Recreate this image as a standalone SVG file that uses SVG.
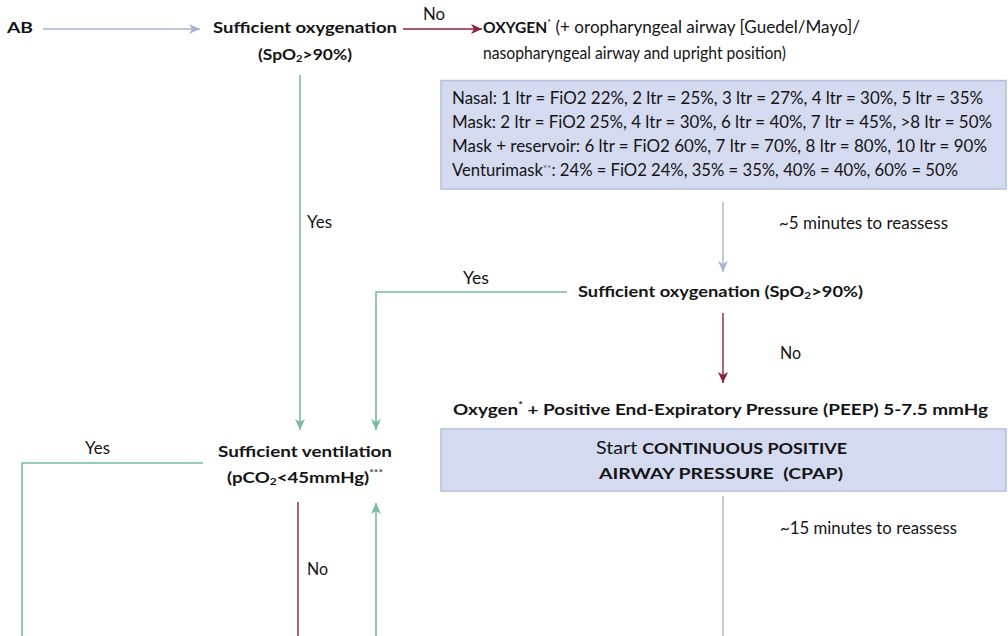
<svg xmlns="http://www.w3.org/2000/svg" width="1008" height="636" viewBox="0 0 1008 636">
<style>
  text { font-family: Lato, "Open Sans", "Liberation Sans", sans-serif; fill: #141414; }
  .r { font-size: 17px; font-weight: 400; }
  .b { font-size: 15.5px; font-weight: 700; }
  .t { font-size: 16.5px; font-weight: 400; }
  .box { fill: #d4daef; stroke: #b3bee0; stroke-width: 1.5; }
  .gray { stroke: #aab3d5; stroke-width: 1.4; fill: none; }
  .red { stroke: #8e1f45; stroke-width: 1.4; fill: none; }
  .green { stroke: #78bba0; stroke-width: 1.6; fill: none; }
  .sup { font-size: 9px; }
</style>
<defs>
  <marker id="ah-gray" markerUnits="userSpaceOnUse" markerWidth="12" markerHeight="10" refX="11" refY="5" orient="auto">
    <path d="M0,0 L11,5 L0,10 L3,5 z" fill="#aab3d5"/>
  </marker>
  <marker id="ah-red" markerUnits="userSpaceOnUse" markerWidth="12" markerHeight="10" refX="11" refY="5" orient="auto">
    <path d="M0,0 L11,5 L0,10 L3,5 z" fill="#8e1f45"/>
  </marker>
  <marker id="ah-green" markerUnits="userSpaceOnUse" markerWidth="12" markerHeight="10" refX="11" refY="5" orient="auto">
    <path d="M0,0 L11,5 L0,10 L3,5 z" fill="#78bba0"/>
  </marker>
</defs>
<rect width="1008" height="636" fill="#ffffff"/>

<g id="connectors">
  <line class="gray" x1="43" y1="29" x2="200" y2="29" marker-end="url(#ah-gray)"/>
  <line class="red" x1="403" y1="29" x2="482" y2="29" marker-end="url(#ah-red)"/>
  <line class="green" x1="300" y1="75" x2="300" y2="430" marker-end="url(#ah-green)"/>
  <line class="gray" x1="723" y1="202" x2="723" y2="272" marker-end="url(#ah-gray)"/>
  <polyline class="green" points="567,292 376,292 376,430" marker-end="url(#ah-green)"/>
  <line class="red" x1="723" y1="313" x2="723" y2="383" marker-end="url(#ah-red)"/>
  <polyline class="green" points="203,463 22,463 22,636"/>
  <line class="red" x1="298" y1="502" x2="298" y2="636"/>
  <line class="green" x1="376" y1="636" x2="376" y2="503" marker-end="url(#ah-green)"/>
  <line class="gray" x1="723" y1="496" x2="723" y2="636"/>
</g>

<g id="labels">
  <text class="r" x="423" y="20" textLength="22" lengthAdjust="spacingAndGlyphs">No</text>
  <text class="r" x="307" y="228" textLength="25" lengthAdjust="spacingAndGlyphs">Yes</text>
  <text class="r" x="779" y="229" textLength="169" lengthAdjust="spacingAndGlyphs">~5 minutes to reassess</text>
  <text class="r" x="463" y="284" textLength="26" lengthAdjust="spacingAndGlyphs">Yes</text>
  <text class="r" x="780" y="359" textLength="21" lengthAdjust="spacingAndGlyphs">No</text>
  <text class="r" x="85" y="454" textLength="25" lengthAdjust="spacingAndGlyphs">Yes</text>
  <text class="r" x="780" y="534" textLength="177" lengthAdjust="spacingAndGlyphs">~15 minutes to reassess</text>
  <text class="r" x="307" y="575" textLength="21" lengthAdjust="spacingAndGlyphs">No</text>
</g>

<g id="node-ab">
  <text class="b" x="7" y="33" textLength="26" lengthAdjust="spacingAndGlyphs">AB</text>
</g>

<g id="node-check1">
  <text class="b" x="213" y="33" textLength="184" lengthAdjust="spacingAndGlyphs">Sufficient oxygenation</text>
  <text class="b" x="258" y="60" textLength="94" lengthAdjust="spacingAndGlyphs">(SpO<tspan font-size="10" dy="2">2</tspan><tspan dy="-2">&gt;90%)</tspan></text>
</g>

<g id="node-oxygen">
  <text class="r" x="483" y="33" textLength="377" lengthAdjust="spacingAndGlyphs"><tspan class="b">OXYGEN</tspan><tspan class="sup" dy="-7">*</tspan><tspan dy="7"> (+ oropharyngeal airway [Guedel/Mayo]/</tspan></text>
  <text class="r" x="483" y="59" textLength="303" lengthAdjust="spacingAndGlyphs">nasopharyngeal airway and upright position)</text>
</g>

<g id="node-o2table">
  <rect class="box" x="441" y="80.5" width="565" height="108.5"/>
  <text class="t" x="452" y="104" textLength="531" lengthAdjust="spacingAndGlyphs">Nasal: 1 ltr = FiO2 22%, 2 ltr = 25%, 3 ltr = 27%, 4 ltr = 30%, 5 ltr = 35%</text>
  <text class="t" x="452" y="128" textLength="540" lengthAdjust="spacingAndGlyphs">Mask: 2 ltr = FiO2 25%, 4 ltr = 30%, 6 ltr = 40%, 7 ltr = 45%, &gt;8 ltr = 50%</text>
  <text class="t" x="452" y="152" textLength="535" lengthAdjust="spacingAndGlyphs">Mask + reservoir: 6 ltr = FiO2 60%, 7 ltr = 70%, 8 ltr = 80%, 10 ltr = 90%</text>
  <text class="t" x="452" y="176" textLength="506" lengthAdjust="spacingAndGlyphs">Venturimask<tspan font-size="10" dy="-4" fill="#555">**</tspan><tspan dy="4">: 24% = FiO2 24%, 35% = 35%, 40% = 40%, 60% = 50%</tspan></text>
</g>

<g id="node-check2">
  <text class="b" x="578" y="297" textLength="285" lengthAdjust="spacingAndGlyphs">Sufficient oxygenation (SpO<tspan font-size="10" dy="2">2</tspan><tspan dy="-2">&gt;90%)</tspan></text>
</g>

<g id="node-peep">
  <text class="b" x="453" y="415" textLength="535" lengthAdjust="spacingAndGlyphs">Oxygen<tspan class="sup" dy="-7">*</tspan><tspan dy="7"> + Positive End-Expiratory Pressure (PEEP) 5-7.5 mmHg</tspan></text>
</g>

<g id="node-cpap">
  <rect class="box" x="441" y="429" width="565" height="62"/>
  <text class="b" x="596" y="454" textLength="251" lengthAdjust="spacingAndGlyphs"><tspan class="r" font-size="16">Start </tspan>CONTINUOUS POSITIVE</text>
  <text class="b" x="599" y="479" textLength="244" lengthAdjust="spacingAndGlyphs">AIRWAY PRESSURE&#160; (CPAP)</text>
</g>

<g id="node-vent">
  <text class="b" x="218" y="457" textLength="174" lengthAdjust="spacingAndGlyphs">Sufficient ventilation</text>
  <text class="b" x="227" y="483" textLength="156" lengthAdjust="spacingAndGlyphs">(pCO<tspan font-size="10" dy="2">2</tspan><tspan dy="-2">&lt;45mmHg)</tspan><tspan class="sup" dy="-7" fill="#444">***</tspan></text>
</g>
</svg>
